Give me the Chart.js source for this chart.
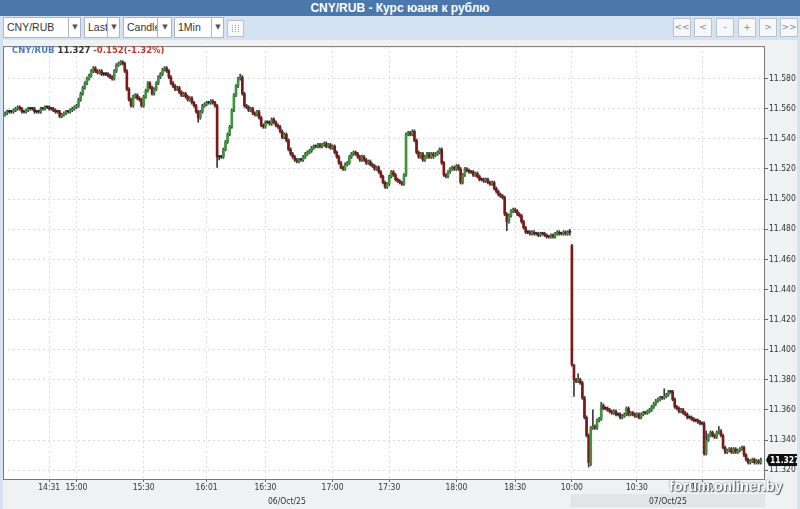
<!DOCTYPE html>
<html>
<head>
<meta charset="utf-8">
<script src="https://cdn.jsdelivr.net/npm/chart.js@4.4.1/dist/chart.umd.min.js"></script>
<style>
  body { margin: 0; width: 800px; height: 509px; overflow: hidden; position: relative;
         background: #d4e2f2; font-family: "Liberation Sans", Arial, sans-serif; }
  #title { position: absolute; left: 0; top: 0; width: 800px; height: 16px; background: #4a78ac;
           color: #fff; font-weight: bold; font-size: 12px; line-height: 16px; text-align: center; }
  .sel { position: absolute; top: 17px; height: 19px; background: #fff; border: 1px solid #a9b6c4;
         font-size: 10.5px; line-height: 19px; color: #333; overflow: hidden; }
  .sel .t { position: absolute; left: 3px; top: 0; white-space: nowrap; }
  .sel .a { position: absolute; top: 0; height: 19px; background: #fff; border-left: 1px solid #a9b6c4;
            text-align: center; font-size: 7px; color: #555; font-family: "DejaVu Sans"; }
  .btn { position: absolute; top: 18px; width: 16px; height: 17px; background: #f5f7f9;
         border: 1px solid #b7c2ce; color: #888; font-size: 9px; line-height: 16px; text-align: center;
         font-family: "DejaVu Sans"; }
  #icon { position: absolute; left: 227px; top: 20px; width: 15px; height: 15px; background: #f5f7f9;
          border: 1px solid #b7c2ce; }
  #icon i { position: absolute; top: 4px; width: 1px; height: 7px;
            background: repeating-linear-gradient(#b8a070 0 1px, transparent 1px 2px); }
  #wrap { position: absolute; left: 3px; top: 40px; width: 794px; height: 469px; }
  #hdr { position: absolute; left: 12px; top: 45px; font-family: "DejaVu Sans", sans-serif;
         font-weight: bold; font-size: 8.5px; white-space: nowrap; }
  #wm { position: absolute; left: 669px; top: 478px; font-family: "Liberation Sans", Arial; font-weight: bold;
        font-size: 14.5px; color: #fff;
        text-shadow: 1px 1px 1px rgba(60,60,60,0.8), 0 0 2px rgba(60,60,60,0.7); }
</style>
</head>
<body>
<div id="title">CNY/RUB - Курс юаня к рублю</div>

<div class="sel" style="left:3px;width:76px"><span class="t">CNY/RUB</span><span class="a" style="left:64px;width:12px">▼</span></div>
<div class="sel" style="left:84px;width:34px"><span class="t">Last</span><span class="a" style="left:22px;width:12px">▼</span></div>
<div class="sel" style="left:123px;width:47px"><span class="t">Candle</span><span class="a" style="left:33px;width:14px">▼</span></div>
<div class="sel" style="left:174px;width:48px"><span class="t">1Min</span><span class="a" style="left:36px;width:12px">▼</span></div>
<div id="icon"><i style="left:4px"></i><i style="left:7px"></i><i style="left:10px"></i></div>

<div class="btn" style="left:673px">&lt;&lt;</div>
<div class="btn" style="left:694px">&lt;</div>
<div class="btn" style="left:716px">-</div>
<div class="btn" style="left:738px">+</div>
<div class="btn" style="left:759px">&gt;</div>
<div class="btn" style="left:780px">&gt;&gt;</div>

<div id="wrap"><canvas id="chart"></canvas></div>
<div id="hdr"><span style="color:#4a7dc0">CNY/RUB</span> <span id="last" style="color:#333"></span> <span style="color:#c0392b">-0.152(-1.32%)</span></div>
<div id="wm">forum.onliner.by</div>

<script>
// 1-minute candles, 06/Oct/25 14:2x .. 07/Oct/25 ~11:1x
const opens = [
  11.556, 11.557, 11.558, 11.558, 11.558, 11.559, 11.560, 11.561, 11.560, 11.558,
  11.558, 11.559, 11.560, 11.560, 11.560, 11.558, 11.558, 11.558, 11.560, 11.560,
  11.561, 11.561, 11.560, 11.560, 11.559, 11.558, 11.558, 11.555, 11.556, 11.557,
  11.558, 11.558, 11.559, 11.560, 11.561, 11.562, 11.566, 11.570, 11.574, 11.577,
  11.580, 11.582, 11.585, 11.587, 11.585, 11.584, 11.585, 11.583, 11.583, 11.583,
  11.582, 11.581, 11.580, 11.585, 11.589, 11.590, 11.591, 11.590, 11.585, 11.573,
  11.566, 11.562, 11.568, 11.569, 11.567, 11.566, 11.562, 11.568, 11.572, 11.577,
  11.574, 11.570, 11.573, 11.577, 11.581, 11.583, 11.586, 11.587, 11.585, 11.581,
  11.577, 11.575, 11.573, 11.574, 11.571, 11.569, 11.570, 11.568, 11.566, 11.567,
  11.564, 11.562, 11.558, 11.554, 11.558, 11.562, 11.563, 11.564, 11.564, 11.565,
  11.564, 11.562, 11.528, 11.528, 11.528, 11.533, 11.538, 11.543, 11.548, 11.559,
  11.569, 11.575, 11.580, 11.581, 11.570, 11.562, 11.561, 11.559, 11.560, 11.557,
  11.556, 11.558, 11.554, 11.549, 11.548, 11.551, 11.551, 11.550, 11.553, 11.551,
  11.549, 11.548, 11.545, 11.541, 11.543, 11.539, 11.533, 11.530, 11.528, 11.526,
  11.525, 11.526, 11.526, 11.528, 11.530, 11.531, 11.532, 11.534, 11.535, 11.535,
  11.536, 11.535, 11.536, 11.537, 11.535, 11.536, 11.534, 11.535, 11.531, 11.528,
  11.524, 11.521, 11.520, 11.523, 11.524, 11.528, 11.530, 11.531, 11.530, 11.528,
  11.526, 11.528, 11.526, 11.524, 11.525, 11.523, 11.522, 11.520, 11.521, 11.518,
  11.515, 11.511, 11.508, 11.510, 11.515, 11.518, 11.516, 11.513, 11.512, 11.511,
  11.510, 11.516, 11.543, 11.544, 11.543, 11.545, 11.539, 11.531, 11.528, 11.530,
  11.526, 11.528, 11.530, 11.528, 11.530, 11.529, 11.530, 11.531, 11.533, 11.524,
  11.516, 11.515, 11.518, 11.520, 11.521, 11.520, 11.522, 11.520, 11.511, 11.516,
  11.520, 11.519, 11.518, 11.518, 11.516, 11.517, 11.515, 11.513, 11.513, 11.512,
  11.513, 11.511, 11.510, 11.511, 11.507, 11.505, 11.503, 11.502, 11.501, 11.490,
  11.485, 11.489, 11.492, 11.493, 11.492, 11.490, 11.489, 11.485, 11.481, 11.478,
  11.478, 11.477, 11.478, 11.477, 11.477, 11.476, 11.477, 11.477, 11.476, 11.475,
  11.475, 11.476, 11.475, 11.477, 11.478, 11.477, 11.477, 11.478, 11.477, 11.478,
  11.469, 11.390, 11.380, 11.379, 11.380, 11.378, 11.368, 11.355, 11.343, 11.324,
  11.348, 11.349, 11.348, 11.353, 11.354, 11.363, 11.361, 11.361, 11.360, 11.359,
  11.358, 11.359, 11.357, 11.357, 11.355, 11.356, 11.357, 11.361, 11.357, 11.358,
  11.357, 11.356, 11.357, 11.355, 11.357, 11.358, 11.358, 11.359, 11.360, 11.362,
  11.364, 11.366, 11.367, 11.368, 11.368, 11.369, 11.370, 11.372, 11.372, 11.367,
  11.362, 11.361, 11.359, 11.360, 11.358, 11.357, 11.355, 11.355, 11.354, 11.353,
  11.353, 11.352, 11.351, 11.351, 11.331, 11.340, 11.343, 11.345, 11.343, 11.342,
  11.345, 11.346, 11.343, 11.335, 11.332, 11.333, 11.334, 11.332, 11.334, 11.332,
  11.333, 11.334, 11.335, 11.330, 11.327, 11.325, 11.326, 11.327, 11.325, 11.326, 11.325
];
const highs = [
  11.558, 11.559, 11.559, 11.559, 11.560, 11.561, 11.562, 11.562, 11.561, 11.559,
  11.560, 11.561, 11.561, 11.561, 11.561, 11.559, 11.559, 11.561, 11.561, 11.562,
  11.562, 11.562, 11.561, 11.561, 11.560, 11.559, 11.559, 11.557, 11.558, 11.559,
  11.559, 11.560, 11.561, 11.562, 11.563, 11.567, 11.571, 11.575, 11.578, 11.581,
  11.583, 11.586, 11.588, 11.588, 11.586, 11.586, 11.586, 11.584, 11.584, 11.584,
  11.583, 11.582, 11.586, 11.590, 11.591, 11.592, 11.592, 11.591, 11.586, 11.574,
  11.567, 11.569, 11.570, 11.570, 11.568, 11.567, 11.569, 11.573, 11.578, 11.578,
  11.575, 11.574, 11.578, 11.582, 11.584, 11.587, 11.588, 11.588, 11.586, 11.582,
  11.578, 11.576, 11.575, 11.575, 11.572, 11.571, 11.571, 11.569, 11.568, 11.568,
  11.565, 11.563, 11.559, 11.559, 11.563, 11.564, 11.565, 11.565, 11.566, 11.566,
  11.565, 11.563, 11.529, 11.529, 11.534, 11.539, 11.544, 11.549, 11.560, 11.570,
  11.576, 11.581, 11.583, 11.582, 11.571, 11.563, 11.562, 11.561, 11.561, 11.558,
  11.559, 11.559, 11.555, 11.550, 11.552, 11.552, 11.552, 11.554, 11.554, 11.552,
  11.550, 11.549, 11.546, 11.544, 11.544, 11.540, 11.534, 11.531, 11.529, 11.527,
  11.527, 11.527, 11.529, 11.531, 11.532, 11.533, 11.535, 11.536, 11.536, 11.537,
  11.537, 11.537, 11.538, 11.538, 11.537, 11.537, 11.536, 11.536, 11.532, 11.529,
  11.525, 11.522, 11.524, 11.525, 11.529, 11.531, 11.532, 11.532, 11.531, 11.529,
  11.529, 11.529, 11.527, 11.526, 11.526, 11.524, 11.523, 11.522, 11.522, 11.519,
  11.516, 11.512, 11.511, 11.516, 11.519, 11.519, 11.517, 11.514, 11.513, 11.512,
  11.517, 11.544, 11.545, 11.545, 11.546, 11.546, 11.540, 11.532, 11.531, 11.531,
  11.529, 11.531, 11.531, 11.531, 11.531, 11.531, 11.532, 11.534, 11.534, 11.525,
  11.517, 11.519, 11.521, 11.522, 11.522, 11.523, 11.523, 11.521, 11.517, 11.521,
  11.521, 11.520, 11.519, 11.519, 11.518, 11.518, 11.516, 11.514, 11.514, 11.514,
  11.514, 11.512, 11.512, 11.512, 11.508, 11.506, 11.504, 11.503, 11.502, 11.491,
  11.490, 11.493, 11.494, 11.494, 11.493, 11.491, 11.490, 11.486, 11.482, 11.479,
  11.479, 11.479, 11.479, 11.478, 11.478, 11.478, 11.478, 11.478, 11.477, 11.476,
  11.477, 11.477, 11.478, 11.479, 11.479, 11.478, 11.479, 11.479, 11.479, 11.480,
  11.470, 11.390, 11.381, 11.384, 11.381, 11.379, 11.369, 11.356, 11.344, 11.349,
  11.360, 11.350, 11.354, 11.355, 11.365, 11.364, 11.362, 11.362, 11.361, 11.360,
  11.360, 11.360, 11.358, 11.358, 11.357, 11.358, 11.362, 11.362, 11.359, 11.359,
  11.358, 11.358, 11.358, 11.358, 11.359, 11.359, 11.360, 11.361, 11.363, 11.365,
  11.367, 11.368, 11.369, 11.369, 11.374, 11.371, 11.373, 11.373, 11.373, 11.368,
  11.363, 11.362, 11.361, 11.361, 11.359, 11.358, 11.356, 11.356, 11.355, 11.354,
  11.354, 11.353, 11.352, 11.352, 11.346, 11.344, 11.346, 11.346, 11.344, 11.346,
  11.349, 11.347, 11.344, 11.336, 11.334, 11.335, 11.335, 11.335, 11.335, 11.334,
  11.335, 11.336, 11.336, 11.331, 11.328, 11.327, 11.328, 11.328, 11.327, 11.327, 11.328
];
const lows = [
  11.555, 11.556, 11.557, 11.557, 11.557, 11.558, 11.559, 11.559, 11.557, 11.557,
  11.557, 11.558, 11.559, 11.559, 11.557, 11.557, 11.557, 11.557, 11.559, 11.559,
  11.560, 11.559, 11.559, 11.558, 11.557, 11.557, 11.554, 11.554, 11.555, 11.556,
  11.557, 11.557, 11.558, 11.559, 11.560, 11.561, 11.565, 11.569, 11.573, 11.576,
  11.579, 11.581, 11.584, 11.584, 11.583, 11.583, 11.582, 11.582, 11.582, 11.581,
  11.580, 11.579, 11.579, 11.584, 11.588, 11.589, 11.589, 11.584, 11.572, 11.565,
  11.561, 11.561, 11.567, 11.566, 11.565, 11.561, 11.561, 11.567, 11.571, 11.573,
  11.569, 11.569, 11.572, 11.576, 11.580, 11.582, 11.585, 11.584, 11.580, 11.576,
  11.574, 11.572, 11.572, 11.570, 11.568, 11.568, 11.567, 11.565, 11.565, 11.563,
  11.561, 11.557, 11.551, 11.553, 11.557, 11.561, 11.562, 11.563, 11.563, 11.563,
  11.561, 11.521, 11.526, 11.527, 11.527, 11.532, 11.537, 11.542, 11.547, 11.558,
  11.568, 11.574, 11.579, 11.569, 11.561, 11.560, 11.558, 11.558, 11.556, 11.555,
  11.555, 11.553, 11.548, 11.547, 11.547, 11.550, 11.549, 11.549, 11.550, 11.548,
  11.547, 11.544, 11.540, 11.540, 11.538, 11.532, 11.529, 11.527, 11.525, 11.524,
  11.524, 11.525, 11.525, 11.527, 11.529, 11.530, 11.531, 11.533, 11.534, 11.534,
  11.534, 11.534, 11.535, 11.534, 11.534, 11.533, 11.533, 11.530, 11.527, 11.523,
  11.520, 11.519, 11.519, 11.522, 11.523, 11.527, 11.529, 11.529, 11.527, 11.525,
  11.525, 11.525, 11.523, 11.523, 11.522, 11.521, 11.519, 11.519, 11.517, 11.514,
  11.510, 11.507, 11.507, 11.509, 11.514, 11.515, 11.512, 11.511, 11.510, 11.509,
  11.509, 11.515, 11.542, 11.542, 11.542, 11.538, 11.530, 11.527, 11.527, 11.525,
  11.525, 11.527, 11.527, 11.527, 11.527, 11.528, 11.529, 11.530, 11.523, 11.515,
  11.514, 11.514, 11.517, 11.519, 11.519, 11.519, 11.519, 11.510, 11.510, 11.515,
  11.518, 11.517, 11.517, 11.515, 11.515, 11.514, 11.512, 11.512, 11.511, 11.511,
  11.510, 11.509, 11.509, 11.506, 11.504, 11.502, 11.501, 11.500, 11.489, 11.479,
  11.484, 11.488, 11.491, 11.491, 11.489, 11.488, 11.484, 11.480, 11.477, 11.477,
  11.476, 11.476, 11.476, 11.476, 11.475, 11.475, 11.476, 11.475, 11.474, 11.474,
  11.474, 11.474, 11.474, 11.476, 11.476, 11.476, 11.476, 11.476, 11.476, 11.476,
  11.389, 11.369, 11.378, 11.378, 11.377, 11.367, 11.354, 11.342, 11.322, 11.323,
  11.347, 11.347, 11.347, 11.352, 11.353, 11.360, 11.360, 11.359, 11.358, 11.357,
  11.357, 11.356, 11.356, 11.354, 11.354, 11.355, 11.356, 11.356, 11.356, 11.356,
  11.355, 11.355, 11.354, 11.354, 11.356, 11.357, 11.357, 11.358, 11.359, 11.361,
  11.363, 11.365, 11.366, 11.367, 11.367, 11.368, 11.369, 11.371, 11.366, 11.361,
  11.360, 11.358, 11.358, 11.357, 11.356, 11.354, 11.354, 11.353, 11.352, 11.352,
  11.351, 11.350, 11.350, 11.330, 11.330, 11.339, 11.342, 11.342, 11.341, 11.341,
  11.344, 11.342, 11.334, 11.331, 11.331, 11.332, 11.331, 11.331, 11.331, 11.331,
  11.332, 11.333, 11.329, 11.326, 11.324, 11.324, 11.325, 11.324, 11.324, 11.324, 11.324
];
const closes = [
  11.557, 11.558, 11.558, 11.558, 11.559, 11.560, 11.561, 11.560, 11.558, 11.558,
  11.559, 11.560, 11.560, 11.560, 11.558, 11.558, 11.558, 11.560, 11.560, 11.561,
  11.561, 11.560, 11.560, 11.559, 11.558, 11.558, 11.555, 11.556, 11.557, 11.558,
  11.558, 11.559, 11.560, 11.561, 11.562, 11.566, 11.570, 11.574, 11.577, 11.580,
  11.582, 11.585, 11.587, 11.585, 11.584, 11.585, 11.583, 11.583, 11.583, 11.582,
  11.581, 11.580, 11.585, 11.589, 11.590, 11.591, 11.590, 11.585, 11.573, 11.566,
  11.562, 11.568, 11.569, 11.567, 11.566, 11.562, 11.568, 11.572, 11.577, 11.574,
  11.570, 11.573, 11.577, 11.581, 11.583, 11.586, 11.587, 11.585, 11.581, 11.577,
  11.575, 11.573, 11.574, 11.571, 11.569, 11.570, 11.568, 11.566, 11.567, 11.564,
  11.562, 11.558, 11.554, 11.558, 11.562, 11.563, 11.564, 11.564, 11.565, 11.564,
  11.562, 11.528, 11.528, 11.528, 11.533, 11.538, 11.543, 11.548, 11.559, 11.569,
  11.575, 11.580, 11.581, 11.570, 11.562, 11.561, 11.559, 11.560, 11.557, 11.556,
  11.558, 11.554, 11.549, 11.548, 11.551, 11.551, 11.550, 11.553, 11.551, 11.549,
  11.548, 11.545, 11.541, 11.543, 11.539, 11.533, 11.530, 11.528, 11.526, 11.525,
  11.526, 11.526, 11.528, 11.530, 11.531, 11.532, 11.534, 11.535, 11.535, 11.536,
  11.535, 11.536, 11.537, 11.535, 11.536, 11.534, 11.535, 11.531, 11.528, 11.524,
  11.521, 11.520, 11.523, 11.524, 11.528, 11.530, 11.531, 11.530, 11.528, 11.526,
  11.528, 11.526, 11.524, 11.525, 11.523, 11.522, 11.520, 11.521, 11.518, 11.515,
  11.511, 11.508, 11.510, 11.515, 11.518, 11.516, 11.513, 11.512, 11.511, 11.510,
  11.516, 11.543, 11.544, 11.543, 11.545, 11.539, 11.531, 11.528, 11.530, 11.526,
  11.528, 11.530, 11.528, 11.530, 11.529, 11.530, 11.531, 11.533, 11.524, 11.516,
  11.515, 11.518, 11.520, 11.521, 11.520, 11.522, 11.520, 11.511, 11.516, 11.520,
  11.519, 11.518, 11.518, 11.516, 11.517, 11.515, 11.513, 11.513, 11.512, 11.513,
  11.511, 11.510, 11.511, 11.507, 11.505, 11.503, 11.502, 11.501, 11.490, 11.485,
  11.489, 11.492, 11.493, 11.492, 11.490, 11.489, 11.485, 11.481, 11.478, 11.478,
  11.477, 11.478, 11.477, 11.477, 11.476, 11.477, 11.477, 11.476, 11.475, 11.475,
  11.476, 11.475, 11.477, 11.478, 11.477, 11.477, 11.478, 11.477, 11.478, 11.478,
  11.390, 11.380, 11.379, 11.380, 11.378, 11.368, 11.355, 11.343, 11.325, 11.348,
  11.349, 11.348, 11.353, 11.354, 11.363, 11.361, 11.361, 11.360, 11.359, 11.358,
  11.359, 11.357, 11.357, 11.355, 11.356, 11.357, 11.361, 11.357, 11.358, 11.357,
  11.356, 11.357, 11.355, 11.357, 11.358, 11.358, 11.359, 11.360, 11.362, 11.364,
  11.366, 11.367, 11.368, 11.368, 11.369, 11.370, 11.372, 11.372, 11.367, 11.362,
  11.361, 11.359, 11.360, 11.358, 11.357, 11.355, 11.355, 11.354, 11.353, 11.353,
  11.352, 11.351, 11.351, 11.331, 11.340, 11.343, 11.345, 11.343, 11.342, 11.345,
  11.346, 11.343, 11.335, 11.332, 11.333, 11.334, 11.332, 11.334, 11.332, 11.333,
  11.334, 11.335, 11.330, 11.327, 11.325, 11.326, 11.327, 11.325, 11.326, 11.325, 11.327
];

// time axis: candle index of each labelled minute
const xTickIdx = [21, 34, 66, 96, 124, 156, 183, 215, 243, 270, 301, 332];
const xTickLabels = ['14:31', '15:00', '15:30', '16:01', '16:30', '17:00', '17:30',
                     '18:00', '18:30', '10:00', '10:30', '11:00'];
const yTicks = [11.32, 11.34, 11.36, 11.38, 11.40, 11.42, 11.44, 11.46, 11.48,
                11.50, 11.52, 11.54, 11.56, 11.58];
const dayLabels = ['06/Oct/25', '07/Oct/25'];
const dayStart = [0, 270];

const UP = '#3f933f';
const DOWN = '#7e1818';
const FLAT = '#222';
const TICK_FONT = { family: '"DejaVu Sans Condensed", "DejaVu Sans"', size: 8.5 };

const lastClose = closes[closes.length - 1];
document.getElementById('last').textContent = lastClose.toFixed(3);

function candleColor(i) {
  if (closes[i] > opens[i]) return UP;
  if (closes[i] < opens[i]) return DOWN;
  return FLAT;
}

const frame = {
  id: 'frame',
  beforeDraw(chart) {
    const { ctx, chartArea: a, width, height } = chart;
    const xs = chart.scales.x;
    ctx.save();
    ctx.fillStyle = '#eff1f3';
    ctx.fillRect(0, 0, width, height);
    // darker date band under the second session
    const x2 = xs.getPixelForValue(dayStart[1] - 0.5);
    ctx.fillStyle = '#e2e4e7';
    ctx.fillRect(x2, a.bottom + 15, a.right - x2, height - a.bottom - 17);
    ctx.fillStyle = '#fff';
    ctx.fillRect(a.left, a.top, a.right - a.left, a.bottom - a.top);
    ctx.restore();
  },
  afterDraw(chart) {
    const { ctx, chartArea: a, width, height } = chart;
    const xs = chart.scales.x;
    const ys = chart.scales.y;
    ctx.save();
    ctx.strokeStyle = '#777';
    ctx.lineWidth = 1;
    ctx.strokeRect(a.left + 0.5, a.top + 0.5, a.right - a.left - 1, a.bottom - a.top);

    // session dates centred under each day
    ctx.fillStyle = '#333';
    ctx.font = '8.5px "DejaVu Sans Condensed", "DejaVu Sans"';
    ctx.textAlign = 'center';
    ctx.textBaseline = 'middle';
    dayLabels.forEach((lbl, d) => {
      const x0 = d === 0 ? a.left : xs.getPixelForValue(dayStart[d] - 0.5);
      const x1 = d === dayLabels.length - 1 ? a.right : xs.getPixelForValue(dayStart[d + 1] - 0.5);
      ctx.fillText(lbl, (x0 + x1) / 2, height - 7);
    });

    // last price marker on the price axis
    const y = Math.round(ys.getPixelForValue(lastClose));
    ctx.fillStyle = '#111';
    ctx.beginPath();
    ctx.moveTo(a.right + 1, y);
    ctx.lineTo(a.right + 4, y - 6);
    ctx.lineTo(width, y - 6);
    ctx.lineTo(width, y + 6);
    ctx.lineTo(a.right + 4, y + 6);
    ctx.closePath();
    ctx.fill();
    ctx.fillStyle = '#fff';
    ctx.font = 'bold 8.5px "DejaVu Sans Condensed", "DejaVu Sans"';
    ctx.textAlign = 'left';
    ctx.fillText(lastClose.toFixed(3), a.right + 5, y + 0.5);
    ctx.restore();
  }
};

new Chart(document.getElementById('chart'), {
  type: 'bar',
  data: {
    datasets: [
      {
        label: 'body',
        data: closes.map((c, i) => ({ x: i, y: [opens[i], c] })),
        backgroundColor: (ctx) => candleColor(ctx.dataIndex),
        barThickness: 2,
        minBarLength: 1,
        grouped: false,
        borderWidth: 0
      },
      {
        label: 'wick',
        data: closes.map((c, i) => ({ x: i, y: [lows[i], highs[i]] })),
        backgroundColor: '#3a3a3a',
        barThickness: 1,
        grouped: false,
        borderWidth: 0
      }
    ]
  },
  options: {
    responsive: true,
    maintainAspectRatio: false,
    animation: false,
    devicePixelRatio: 1,
    layout: { padding: 0 },
    plugins: { legend: { display: false }, tooltip: { enabled: false } },
    scales: {
      x: {
        type: 'linear',
        min: -1,
        max: closes.length + 1,
        offset: false,
        afterFit: (s) => { s.height = 30; },
        afterBuildTicks: (s) => { s.ticks = xTickIdx.map((v) => ({ value: v })); },
        grid: { offset: false, color: '#dcdcdc', tickColor: '#666', tickLength: 3 },
        border: { display: false, dash: [2, 3] },
        ticks: {
          autoSkip: false, maxRotation: 0, minRotation: 0, padding: 1,
          color: '#333', font: TICK_FONT,
          callback: (v) => xTickLabels[xTickIdx.indexOf(v)]
        }
      },
      y: {
        type: 'linear',
        position: 'right',
        min: 11.3141,
        max: 11.6016,
        afterFit: (s) => { s.width = 32; },
        afterBuildTicks: (s) => { s.ticks = yTicks.map((v) => ({ value: v })); },
        grid: { color: '#dcdcdc', tickColor: '#666', tickLength: 3 },
        border: { display: false, dash: [2, 3] },
        ticks: { padding: 1, color: '#333', font: TICK_FONT, callback: (v) => v.toFixed(3) }
      }
    }
  },
  plugins: [frame]
});
</script>
</body>
</html>
